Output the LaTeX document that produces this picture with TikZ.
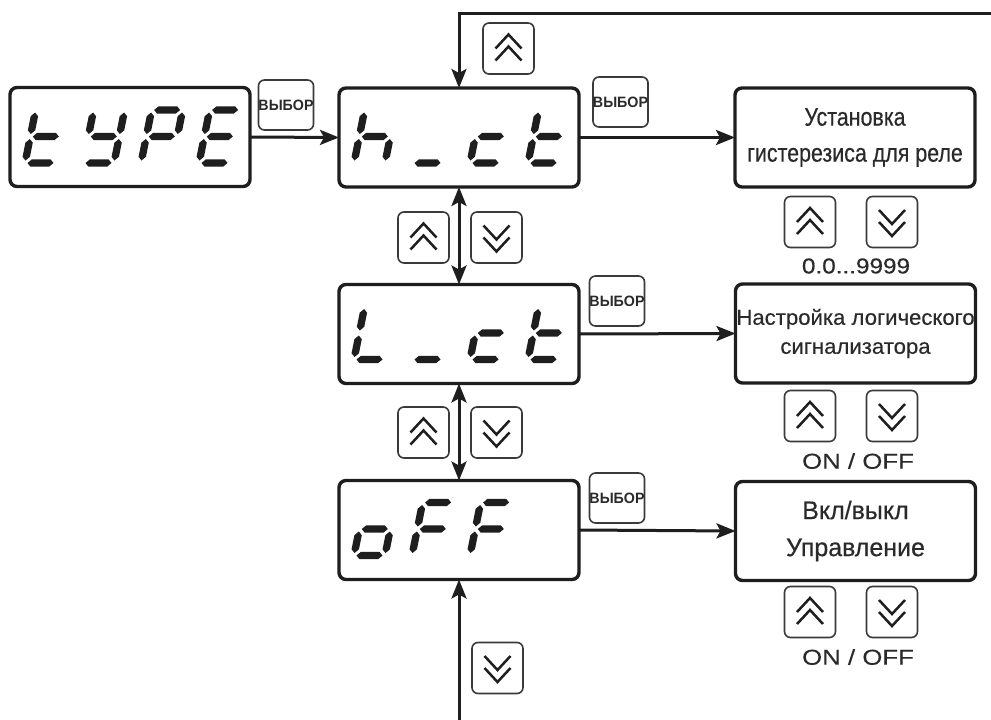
\documentclass[tikz,border=0pt]{standalone}
\usepackage{fontspec}
\setmainfont{Liberation Sans}
\newfontfamily\fNarrow[FakeStretch=0.84,FakeBold=0.4]{Liberation Sans}
\newfontfamily\fNorm[FakeStretch=1.03,FakeBold=0.3]{Liberation Sans}
\newfontfamily\fMid[FakeStretch=0.98,FakeBold=0.4]{Liberation Sans}
\newfontfamily\fWide[FakeStretch=1.13,FakeBold=0.4]{Liberation Sans}
\newfontfamily\fWider[FakeStretch=1.2,FakeBold=0.3]{Liberation Sans}
\newfontfamily\fBtn[FakeStretch=0.95]{Liberation Sans}
\usetikzlibrary{arrows.meta}
\definecolor{ink}{HTML}{1E1E1E}
\definecolor{txt}{HTML}{2A2A2A}
\definecolor{btnc}{HTML}{3A3A3A}
\newcommand\hseg[3]{\fill[ink] (#1,#3) -- ({#1+3.7},{#3-3.7}) -- ({#2-3.7},{#3-3.7}) -- (#2,#3) -- ({#2-3.7},{#3+3.7}) -- ({#1+3.7},{#3+3.7}) -- cycle;}
\newcommand\vseg[3]{\fill[ink] (#1,#2) -- ({#1+3.7},{#2+3.7}) -- ({#1+3.7},{#3-3.7}) -- (#1,#3) -- ({#1-3.7},{#3-3.7}) -- ({#1-3.7},{#2+3.7}) -- cycle;}
\newcommand\SgA{\hseg{2.5}{28.5}{-53}}
\newcommand\SgG{\hseg{2.5}{28.5}{-26.5}}
\newcommand\SgD{\hseg{2.5}{28.5}{0}}
\newcommand\SgF{\vseg{0}{-50.5}{-29}}
\newcommand\SgE{\vseg{0}{-24}{-2.5}}
\newcommand\SgB{\vseg{31}{-50.5}{-29}}
\newcommand\SgC{\vseg{31}{-24}{-2.5}}
\newcommand\segchar[3]{\begin{scope}[shift={(#1,#2)},xslant=0.2] #3 \end{scope}}
\newcommand\chevup{\draw[chev] (-13,0) -- (0,-14) -- (13,0); \draw[chev] (-13,12) -- (0,-2) -- (13,12);}
\newcommand\chevdn{\draw[chev] (-13,-12) -- (0,2) -- (13,-12); \draw[chev] (-13,0) -- (0,14) -- (13,0);}
\begin{document}
\begin{tikzpicture}[x=1pt,y=-1pt,
  disp/.style={draw=ink,line width=3.4pt,rounded corners=7pt,minimum width=240pt,minimum height=99pt,inner sep=0pt,outer sep=0pt},
  rbox/.style={draw=ink,line width=3.4pt,rounded corners=7pt,minimum width=240pt,minimum height=99pt,inner sep=0pt,outer sep=0pt,align=center,text=txt},
  btn/.style={draw=btnc,line width=1.6pt,rounded corners=6pt,minimum width=51pt,minimum height=51pt,inner sep=0pt},
  vbtn/.style={draw=btnc,line width=1.6pt,rounded corners=6pt,minimum width=52pt,minimum height=50pt,inner sep=0pt,font=\fBtn\bfseries\fontsize{15}{15}\selectfont,text=txt},
  chev/.style={draw=ink,line width=2.5pt},
  lbl/.style={text=txt,inner sep=0pt},
  arr/.style={draw=ink,line width=3pt,-{Stealth[length=19pt,width=15pt,inset=4pt]}},
  darr/.style={draw=ink,line width=3pt,{Stealth[length=19pt,width=15pt,inset=4pt]}-{Stealth[length=19pt,width=15pt,inset=4pt]}}
]
\useasboundingbox (0,0) rectangle (991,720);
\fill[white] (0,0) rectangle (991,720);

% display boxes
\node[disp] (type) at (130,137) {};
\node[disp] (hct) at (459,137.5) {};
\node[disp] (lct) at (459,334) {};
\node[disp] (off) at (459,530) {};

% segment characters
\segchar{25}{163}{\SgD\SgE\SgF\SgG}
\segchar{83}{163}{\SgB\SgC\SgD\SgF\SgG}
\segchar{141}{163}{\SgA\SgB\SgE\SgF\SgG}
\segchar{199}{163}{\SgA\SgD\SgE\SgF\SgG}

\segchar{354}{163}{\SgC\SgE\SgF\SgG}
\segchar{412}{163}{\SgD}
\segchar{470}{163}{\SgD\SgE\SgG}
\segchar{528}{163}{\SgD\SgE\SgF\SgG}

\segchar{354}{359.5}{\SgD\SgE\SgF}
\segchar{412}{359.5}{\SgD}
\segchar{470}{359.5}{\SgD\SgE\SgG}
\segchar{528}{359.5}{\SgD\SgE\SgF\SgG}

\segchar{354}{555.5}{\SgC\SgD\SgE\SgG}
\segchar{412}{555.5}{\SgA\SgE\SgF\SgG}
\segchar{470}{555.5}{\SgA\SgE\SgF\SgG}

% right boxes
\node[rbox,font=\fNarrow\fontsize{25.5}{36}\selectfont] (r1) at (855,137.5) {Установка\\гистерезиса для реле};
\node[rbox,font=\fNorm\fontsize{21.5}{29}\selectfont] (r2) at (855.5,333.5) {Настройка логического\\сигнализатора};
\node[rbox,font=\fMid\fontsize{25.5}{37}\selectfont] (r3) at (855.5,531) {Вкл/выкл\\Управление};

% select buttons
\node[vbtn] (v1) at (286,105) {ВЫБОР};
\node[vbtn] (v2) at (620.5,102) {ВЫБОР};
\node[vbtn] (v3) at (617,301) {ВЫБОР};
\node[vbtn] (v4) at (617,498) {ВЫБОР};

% arrow buttons
\node[btn] (u0) at (508.5,48.5) {};
\begin{scope}[shift={(u0.center)}]\chevup\end{scope}
\node[btn] (u1) at (423.5,237.5) {};
\begin{scope}[shift={(u1.center)}]\chevup\end{scope}
\node[btn] (d1) at (496.5,237.5) {};
\begin{scope}[shift={(d1.center)}]\chevdn\end{scope}
\node[btn] (u2) at (423.5,432.5) {};
\begin{scope}[shift={(u2.center)}]\chevup\end{scope}
\node[btn] (d2) at (496.5,432.5) {};
\begin{scope}[shift={(d2.center)}]\chevdn\end{scope}
\node[btn] (d3) at (497.5,668) {};
\begin{scope}[shift={(d3.center)}]\chevdn\end{scope}

\node[btn] (ru1) at (810,222) {};
\begin{scope}[shift={(ru1.center)}]\chevup\end{scope}
\node[btn] (rd1) at (892,222) {};
\begin{scope}[shift={(rd1.center)}]\chevdn\end{scope}
\node[btn] (ru2) at (810,416) {};
\begin{scope}[shift={(ru2.center)}]\chevup\end{scope}
\node[btn] (rd2) at (892,416) {};
\begin{scope}[shift={(rd2.center)}]\chevdn\end{scope}
\node[btn] (ru3) at (810,612) {};
\begin{scope}[shift={(ru3.center)}]\chevup\end{scope}
\node[btn] (rd3) at (892,612) {};
\begin{scope}[shift={(rd3.center)}]\chevdn\end{scope}

% value labels
\node[lbl,font=\fWide\fontsize{21.5}{21}\selectfont] (l1) at (856,266) {0.0...9999};
\node[lbl,font=\fWider\fontsize{21.5}{21}\selectfont] (l2) at (858,461) {ON / OFF};
\node[lbl,font=\fWider\fontsize{21.5}{21}\selectfont] (l3) at (858,657) {ON / OFF};

% connectors
\coordinate (tr) at (991,13);
\coordinate (bt) at (459,720);
\draw[arr] (type.east) -- (hct.west);
\draw[arr] (hct.east) -- (r1.west);
\draw[arr] (lct.east) -- (r2.west);
\draw[arr] (off.east) -- (r3.west);
\draw[arr] (tr) -- (hct.north |- tr) -- (hct.north);
\draw[darr] (hct.south) -- (lct.north);
\draw[darr] (lct.south) -- (off.north);
\draw[arr] (bt) -- (off.south);
\end{tikzpicture}
\end{document}
